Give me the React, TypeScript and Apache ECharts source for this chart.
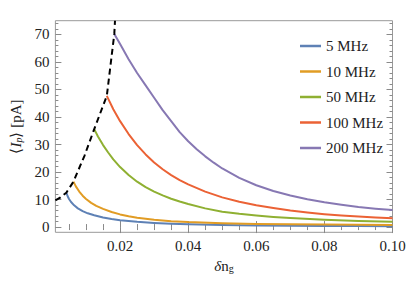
import React, { useEffect, useRef } from "react";
import * as echarts from "echarts";

const xMajor = [0.02, 0.04, 0.06, 0.08, 0.1];
const xMinor = [0.005, 0.01, 0.015, 0.025, 0.03, 0.035, 0.045, 0.05, 0.055, 0.065, 0.07, 0.075, 0.085, 0.09, 0.095];
const yMajor = [0, 10, 20, 30, 40, 50, 60, 70];
const yMinor = [0, 2, 4, 6, 8, 12, 14, 16, 18, 22, 24, 26, 28, 32, 34, 36, 38, 42, 44, 46, 48, 52, 54, 56, 58, 62, 64, 66, 68, 72, 74];

const names = ["5 MHz", "10 MHz", "50 MHz", "100 MHz", "200 MHz"];
const colors = ["#5E81B5", "#E19C24", "#8FB032", "#EB6235", "#8778B3"];

const s5: number[][] = [[0.0042, 12.5], [0.0046, 11.2], [0.005, 10.2], [0.0056, 9.1], [0.0065, 7.9], [0.0076, 6.8], [0.009, 5.8], [0.0105, 5.0], [0.0124, 4.3], [0.015, 3.5], [0.0175, 2.9], [0.02, 2.45], [0.025, 1.9], [0.03, 1.5], [0.035, 1.2], [0.04, 1.0], [0.05, 0.75], [0.06, 0.6], [0.07, 0.5], [0.08, 0.43], [0.09, 0.38], [0.1, 0.34]];
const s10: number[][] = [[0.0063, 16.5], [0.007, 14.8], [0.008, 12.9], [0.009, 11.4], [0.01, 10.2], [0.0115, 8.8], [0.013, 7.7], [0.015, 6.6], [0.0175, 5.5], [0.02, 4.6], [0.0225, 3.9], [0.025, 3.4], [0.03, 2.65], [0.035, 2.15], [0.04, 1.8], [0.05, 1.4], [0.06, 1.15], [0.07, 1.0], [0.08, 0.9], [0.09, 0.82], [0.1, 0.76]];
const s50: number[][] = [[0.0124, 35.6], [0.0135, 32.9], [0.015, 29.8], [0.0165, 27.1], [0.018, 24.6], [0.02, 21.8], [0.0225, 18.9], [0.025, 16.5], [0.0275, 14.5], [0.03, 12.9], [0.0325, 11.5], [0.035, 10.3], [0.0375, 9.3], [0.04, 8.4], [0.045, 6.8], [0.05, 5.6], [0.055, 4.8], [0.06, 4.2], [0.065, 3.7], [0.07, 3.3], [0.08, 2.7], [0.09, 2.25], [0.1, 1.9]];
const s100: number[][] = [[0.0161, 47.7], [0.018, 42.8], [0.02, 38.5], [0.0225, 33.8], [0.025, 29.8], [0.0275, 26.4], [0.03, 23.5], [0.0325, 21.0], [0.035, 18.9], [0.0375, 17.1], [0.04, 15.5], [0.045, 12.9], [0.05, 10.8], [0.055, 9.2], [0.06, 7.9], [0.065, 6.9], [0.07, 6.0], [0.075, 5.3], [0.08, 4.7], [0.085, 4.2], [0.09, 3.8], [0.095, 3.5], [0.1, 3.2]];
const s200: number[][] = [[0.0183, 70.2], [0.02, 66.5], [0.0225, 61.0], [0.025, 56.0], [0.0275, 51.5], [0.03, 47.0], [0.0325, 42.5], [0.035, 38.5], [0.0375, 34.5], [0.04, 31.2], [0.0425, 28.3], [0.045, 25.7], [0.0475, 23.4], [0.05, 21.3], [0.055, 17.9], [0.06, 15.2], [0.065, 13.1], [0.07, 11.5], [0.075, 10.1], [0.08, 9.0], [0.085, 8.1], [0.09, 7.3], [0.095, 6.7], [0.1, 6.2]];
const threshold: number[][] = [[0.001, 9.7], [0.0025, 10.8], [0.0042, 12.5], [0.0063, 16.5], [0.0095, 25.8], [0.0124, 35.6], [0.0161, 47.7], [0.0183, 70.2], [0.0185, 75]];

const seriesData = [s5, s10, s50, s100, s200];

const FONT = "serif";
const TICK = "#8a8a8a";
const TXT = "#222";

export default function App() {
  const ref = useRef<HTMLDivElement>(null);
  useEffect(() => {
    document.body.style.margin = "0";
    if (!ref.current) return;
    const chart = echarts.init(ref.current, null, { renderer: "svg" });
    const xBase = (pos: string, ticks: number[], len: number, labels: boolean, name?: boolean) => ({
      type: "value",
      gridIndex: 0,
      position: pos,
      min: 0.001,
      max: 0.1,
      name: name ? "{i|δ}{n|n}{s|g}" : undefined,
      nameLocation: "middle",
      nameGap: 24,
      nameTextStyle: {
        fontFamily: FONT,
        rich: {
          i: { fontFamily: FONT, fontSize: 15, fontStyle: "italic", color: TXT },
          n: { fontFamily: FONT, fontSize: 15, color: TXT },
          s: { fontFamily: FONT, fontSize: 10, color: TXT, padding: [6, 0, 0, 0] },
        },
      },
      axisLine: { show: false },
      splitLine: { show: false },
      axisTick: { show: true, inside: true, length: len, customValues: ticks, lineStyle: { color: TICK, width: 1 } },
      axisLabel: labels
        ? { show: true, customValues: xMajor, margin: 6, fontFamily: FONT, fontSize: 15, color: TXT, formatter: (v: number) => v.toFixed(2) }
        : { show: false },
    });
    const yBase = (pos: string, ticks: number[], len: number, labels: boolean, name?: boolean) => ({
      type: "value",
      position: pos,
      min: -1.9,
      max: 75,
      name: name ? "{n|⟨}{i|I}{s|p}{n|⟩ [pA]}" : undefined,
      nameLocation: "middle",
      nameRotate: 90,
      nameGap: 29,
      nameTextStyle: {
        fontFamily: FONT,
        rich: {
          i: { fontFamily: FONT, fontSize: 15, fontStyle: "italic", color: TXT },
          n: { fontFamily: FONT, fontSize: 15, color: TXT },
          s: { fontFamily: FONT, fontSize: 10, fontStyle: "italic", color: TXT, padding: [6, 0, 0, 0] },
        },
      },
      axisLine: { show: false },
      splitLine: { show: false },
      axisTick: { show: true, inside: true, length: len, customValues: ticks, lineStyle: { color: TICK, width: 1 } },
      axisLabel: labels
        ? { show: true, customValues: yMajor, margin: 6, fontFamily: FONT, fontSize: 15, color: TXT, formatter: (v: number) => String(Math.round(v)) }
        : { show: false },
    });

    const option: any = {
      animation: false,
      backgroundColor: "#fff",
      textStyle: { fontFamily: FONT },
      grid: { left: 51, right: 23.5, top: 20.7, bottom: 52.7, show: true, borderColor: "#999", borderWidth: 1, backgroundColor: "transparent" },
      legend: {
        data: names,
        orient: "vertical",
        left: 295,
        top: 33,
        icon: "rect",
        itemWidth: 21,
        itemHeight: 2.5,
        itemGap: 9.5,
        textStyle: { fontFamily: FONT, fontSize: 15, color: TXT, lineHeight: 16 },
      },
      xAxis: [
        xBase("bottom", xMajor, 6, true, true),
        xBase("bottom", xMinor, 3, false),
        xBase("top", xMajor, 6, false),
        xBase("top", xMinor, 3, false),
      ],
      yAxis: [
        yBase("left", yMajor, 6, true, true),
        yBase("left", yMinor, 3, false),
        yBase("right", yMajor, 6, false),
        yBase("right", yMinor, 3, false),
      ],
      series: [
        ...seriesData.map((d, i) => ({
          name: names[i],
          type: "line",
          xAxisIndex: 0,
          yAxisIndex: 0,
          data: d,
          smooth: false,
          symbol: "none",
          lineStyle: { color: colors[i], width: 2, join: "round" },
          itemStyle: { color: colors[i] },
        })),
        {
          name: "threshold",
          type: "line",
          xAxisIndex: 0,
          yAxisIndex: 0,
          data: threshold,
          symbol: "none",
          z: 5,
          lineStyle: { color: "#000", width: 2, type: [6, 4] },
          itemStyle: { color: "#000" },
        },
      ],
    };
    chart.setOption(option);
    return () => chart.dispose();
  }, []);
  return <div ref={ref} style={{ width: 416, height: 285 }} />;
}
